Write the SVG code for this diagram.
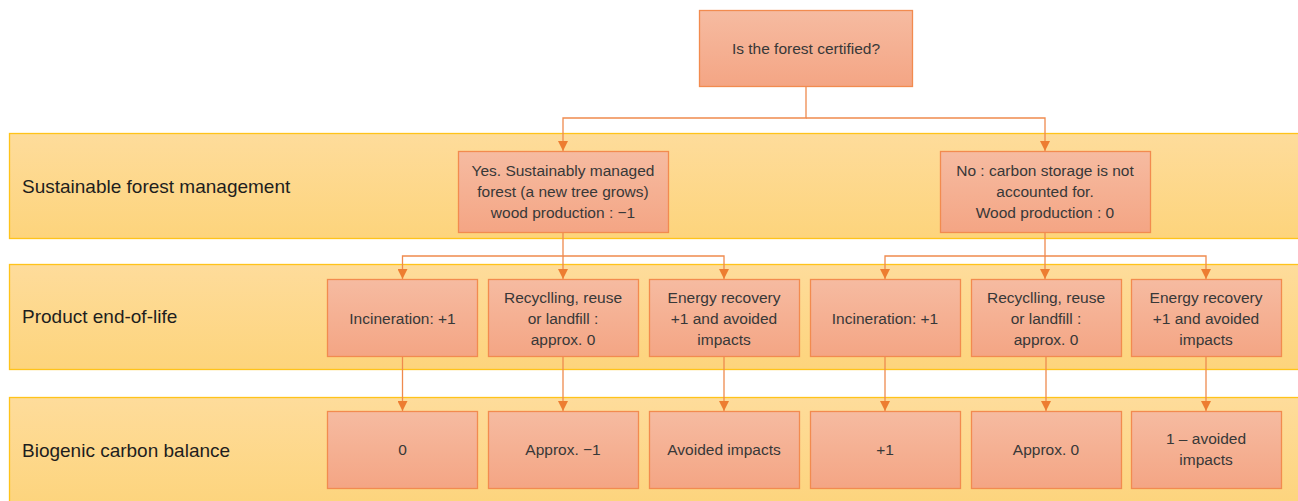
<svg xmlns="http://www.w3.org/2000/svg" width="1298" height="501" viewBox="0 0 1298 501">
<defs>
<linearGradient id="band" x1="0" y1="0" x2="0" y2="1">
<stop offset="0" stop-color="#FEDC9B"/>
<stop offset="1" stop-color="#FDD47C"/>
</linearGradient>
<linearGradient id="node" x1="0" y1="0" x2="0" y2="1">
<stop offset="0" stop-color="#F6BBA1"/>
<stop offset="1" stop-color="#F4A584"/>
</linearGradient>
<marker id="arr" viewBox="0 0 10 10" refX="10" refY="5" markerWidth="10" markerHeight="10" markerUnits="userSpaceOnUse" orient="auto">
<path d="M0,0 L10,5 L0,10 Z" fill="#ED7D31"/>
</marker>
<style>
.band{fill:url(#band);stroke:#FFC31A;stroke-width:1.3}
.node rect{fill:url(#node);stroke:#F28B4F;stroke-width:1.3}
.node text{font-family:"Liberation Sans",Arial,sans-serif;font-size:15.5px;fill:#383838;text-anchor:middle}
.lbl{font-family:"Liberation Sans",Arial,sans-serif;font-size:19px;fill:#1e1e1e}
.conn path{fill:none;stroke:#EF8A4E;stroke-width:1.3}
</style>
</defs>
<rect width="1298" height="501" fill="#ffffff"/>
<g id="bands">
<rect class="band" x="9.5" y="133.5" width="1295" height="105"/>
<rect class="band" x="9.5" y="264.5" width="1295" height="105"/>
<rect class="band" x="9.5" y="397.5" width="1295" height="110"/>
<text class="lbl" x="22" y="193">Sustainable forest management</text>
<text class="lbl" x="22" y="323">Product end-of-life</text>
<text class="lbl" x="22" y="457">Biogenic carbon balance</text>
</g>
<g id="connectors" class="conn">
<path d="M806,86 V118 H563 V151" marker-end="url(#arr)"/>
<path d="M806,118 H1045 V151" marker-end="url(#arr)"/>
<path d="M563,232 V256 H402.5 V279" marker-end="url(#arr)"/>
<path d="M563,256 V279" marker-end="url(#arr)"/>
<path d="M563,256 H724 V279" marker-end="url(#arr)"/>
<path d="M1045,232 V256 H885 V279" marker-end="url(#arr)"/>
<path d="M1045,256 V279" marker-end="url(#arr)"/>
<path d="M1045,256 H1206 V279" marker-end="url(#arr)"/>
<path d="M402.5,356 V411" marker-end="url(#arr)"/>
<path d="M563,356 V411" marker-end="url(#arr)"/>
<path d="M724,356 V411" marker-end="url(#arr)"/>
<path d="M885,356 V411" marker-end="url(#arr)"/>
<path d="M1046,356 V411" marker-end="url(#arr)"/>
<path d="M1206,356 V411" marker-end="url(#arr)"/>
</g>
<g id="n-root" class="node"><rect x="699.5" y="10.5" width="213" height="76"/><text x="806" y="54">Is the forest certified?</text></g>
<g id="n-yes" class="node"><rect x="458.5" y="151.5" width="210" height="81"/>
<text x="563" y="176">Yes. Sustainably managed</text><text x="563" y="197">forest (a new tree grows)</text><text x="563" y="218">wood production : −1</text></g>
<g id="n-no" class="node"><rect x="940.5" y="151.5" width="210" height="81"/>
<text x="1045" y="176">No : carbon storage is not</text><text x="1045" y="197">accounted for.</text><text x="1045" y="218">Wood production : 0</text></g>
<g id="n-inc1" class="node"><rect x="327.5" y="279.5" width="150" height="77"/><text x="402.5" y="324">Incineration: +1</text></g>
<g id="n-rec1" class="node"><rect x="488.5" y="279.5" width="150" height="77"/>
<text x="563" y="303">Recyclling, reuse</text><text x="563" y="324">or landfill :</text><text x="563" y="345">approx. 0</text></g>
<g id="n-en1" class="node"><rect x="649.5" y="279.5" width="150" height="77"/>
<text x="724" y="303">Energy recovery</text><text x="724" y="324">+1 and avoided</text><text x="724" y="345">impacts</text></g>
<g id="n-inc2" class="node"><rect x="810.5" y="279.5" width="150" height="77"/><text x="885" y="324">Incineration: +1</text></g>
<g id="n-rec2" class="node"><rect x="971.5" y="279.5" width="150" height="77"/>
<text x="1046" y="303">Recyclling, reuse</text><text x="1046" y="324">or landfill :</text><text x="1046" y="345">approx. 0</text></g>
<g id="n-en2" class="node"><rect x="1131.5" y="279.5" width="150" height="77"/>
<text x="1206" y="303">Energy recovery</text><text x="1206" y="324">+1 and avoided</text><text x="1206" y="345">impacts</text></g>
<g id="n-b1" class="node"><rect x="327.5" y="411.5" width="150" height="77"/><text x="402.5" y="455">0</text></g>
<g id="n-b2" class="node"><rect x="488.5" y="411.5" width="150" height="77"/><text x="563" y="455">Approx. −1</text></g>
<g id="n-b3" class="node"><rect x="649.5" y="411.5" width="150" height="77"/><text x="724" y="455">Avoided impacts</text></g>
<g id="n-b4" class="node"><rect x="810.5" y="411.5" width="150" height="77"/><text x="885" y="455">+1</text></g>
<g id="n-b5" class="node"><rect x="971.5" y="411.5" width="150" height="77"/><text x="1046" y="455">Approx. 0</text></g>
<g id="n-b6" class="node"><rect x="1131.5" y="411.5" width="150" height="77"/><text x="1206" y="444">1 – avoided</text><text x="1206" y="465">impacts</text></g>
</svg>
